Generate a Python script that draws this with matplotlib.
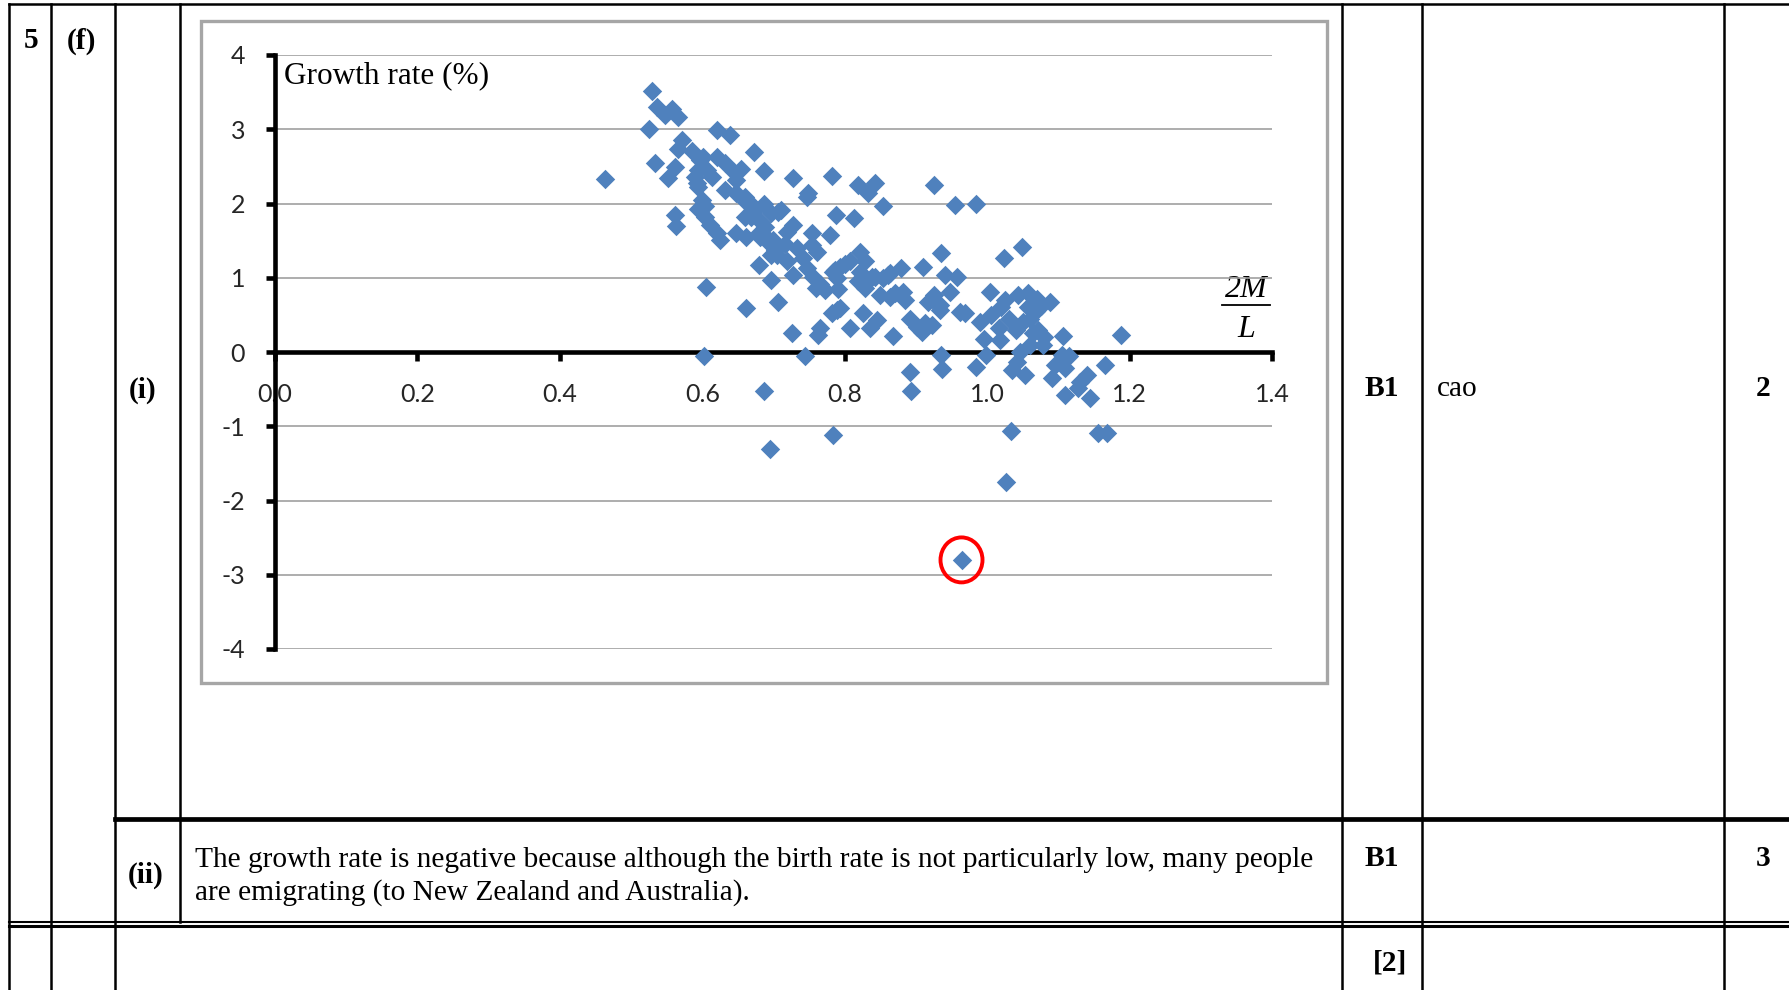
import matplotlib
matplotlib.use("Agg")
import matplotlib.pyplot as plt
from matplotlib.patches import Ellipse, Rectangle

# ---------------- data ----------------
ratio_2M_over_L = [
    0.530, 0.536, 0.548, 0.558, 0.566, 0.525, 0.620, 0.639, 0.572, 0.566, 0.585, 0.673, 0.534, 0.562, 0.552,
    0.464, 0.601, 0.620, 0.632, 0.594, 0.606, 0.644, 0.655, 0.686, 0.592, 0.613, 0.632, 0.648, 0.599, 0.594,
    0.660, 0.669, 0.686, 0.697, 0.562, 0.563, 0.604, 0.611, 0.620, 0.625, 0.648, 0.662, 0.679, 0.688, 0.660,
    0.674, 0.695, 0.679, 0.697, 0.605,
    0.597, 0.590, 0.648, 0.594, 0.604, 0.669, 0.683, 0.690, 0.697,
    0.728, 0.782, 0.749, 0.819, 0.842, 0.833, 0.926, 0.955, 0.854, 0.788, 0.813, 0.711, 0.728, 0.754, 0.779,
    0.716, 0.822, 0.829, 0.879, 0.910, 0.935, 0.941, 0.957, 0.786, 0.800, 0.843, 0.861,
    0.985, 1.023, 1.049,
    0.662, 0.707, 0.747, 0.681, 0.719, 0.700, 0.702, 0.733, 0.754, 0.761, 0.705, 0.719, 0.742, 0.728, 0.747,
    0.756, 0.765, 0.772, 0.784, 0.793, 0.789, 0.807, 0.822, 0.819, 0.829, 0.838, 0.854, 0.864, 0.850, 0.864,
    0.882, 0.925, 0.948, 0.934, 0.962, 0.917, 1.004, 0.662, 0.707, 0.789, 0.782, 0.826, 0.845, 0.836, 0.807,
    0.765, 0.763, 0.726, 0.868, 0.892, 0.901, 0.913, 0.908, 0.922, 0.990, 0.995,
    0.744, 0.793, 0.922, 0.934, 0.935, 0.936, 0.892, 0.893, 0.784, 0.760, 0.790, 0.870, 0.885,
    0.603, 0.687, 0.695,
    1.025, 1.044, 1.058, 1.070, 1.088, 1.006, 1.016, 1.018, 0.998, 0.985, 1.035, 1.053, 1.042, 1.046, 1.050,
    1.060, 1.068, 1.058, 1.075, 1.064, 1.060, 1.072, 1.080, 1.078, 1.040, 1.030, 1.020,
    1.107, 1.105, 1.115, 1.095, 1.109, 1.091, 1.109, 1.130, 1.140, 1.128, 1.145, 1.166, 1.188, 1.155, 1.168,
    1.034, 1.027, 0.969, 0.964,
]
growth_rate = [
    3.52, 3.30, 3.19, 3.27, 3.17, 3.00, 2.99, 2.92, 2.85, 2.74, 2.71, 2.70, 2.55, 2.49, 2.35,
    2.33, 2.62, 2.62, 2.54, 2.45, 2.45, 2.43, 2.47, 2.44, 2.27, 2.36, 2.18, 2.14, 2.05, 1.93,
    2.09, 2.00, 2.00, 1.87, 1.84, 1.70, 1.82, 1.71, 1.60, 1.51, 1.60, 1.55, 1.60, 1.69, 1.82,
    1.91, 1.46, 1.17, 0.97, 0.87,
    2.58, 2.36, 2.31, 2.22, 1.96, 1.82, 1.75, 1.55, 1.31,
    2.35, 2.37, 2.14, 2.25, 2.28, 2.14, 2.25, 1.98, 1.96, 1.85, 1.81, 1.91, 1.71, 1.60, 1.57,
    1.46, 1.35, 1.22, 1.13, 1.15, 1.33, 1.04, 1.01, 1.10, 1.19, 1.01, 1.04,
    1.99, 1.26, 1.42,
    2.02, 1.89, 2.09, 1.55, 1.62, 1.51, 1.37, 1.40, 1.44, 1.35, 1.31, 1.22, 1.26, 1.04, 1.13,
    1.01, 0.92, 0.83, 1.08, 1.15, 0.99, 1.22, 1.08, 0.95, 0.86, 1.01, 0.99, 1.06, 0.77, 0.74,
    0.81, 0.77, 0.81, 0.57, 0.54, 0.68, 0.81, 0.59, 0.68, 0.57, 0.52, 0.52, 0.43, 0.32, 0.32,
    0.32, 0.23, 0.25, 0.21, 0.45, 0.34, 0.39, 0.27, 0.36, 0.41, 0.18,
    -0.06, 0.59, 0.72, 0.63, -0.04, -0.23, -0.27, -0.52, -1.12, 0.86, 0.85, 0.80, 0.70,
    -0.06, -0.52, -1.31,
    0.70, 0.77, 0.79, 0.72, 0.68, 0.50, 0.32, 0.16, -0.04, -0.20, -0.24, -0.31, -0.13, 0.00, 0.40,
    0.45, 0.55, 0.60, 0.62, 0.25, 0.10, 0.30, 0.20, 0.10, 0.30, 0.45, 0.60,
    0.21, -0.04, -0.06, -0.17, -0.22, -0.35, -0.58, -0.40, -0.31, -0.49, -0.62, -0.17, 0.23, -1.09, -1.09,
    -1.06, -1.75, 0.52, -2.80,
]
x_ticks = [0.0, 0.2, 0.4, 0.6, 0.8, 1.0, 1.2, 1.4]
x_tick_labels = ["0.0", "0.2", "0.4", "0.6", "0.8", "1.0", "1.2", "1.4"]
y_ticks = [-4, -3, -2, -1, 0, 1, 2, 3, 4]
y_tick_labels = ["-4", "-3", "-2", "-1", "0", "1", "2", "3", "4"]
circled_point = (0.964, -2.80)

answer_line1 = "The growth rate is negative because although the birth rate is not particularly low, many people"
answer_line2 = "are emigrating (to New Zealand and Australia)."

# ---------------- figure ----------------
W, H = 1789, 990
fig = plt.figure(figsize=(W / 100, H / 100), dpi=100)
fig.patch.set_facecolor("white")

bg = fig.add_axes([0, 0, 1, 1], zorder=0)
bg.set_xlim(0, W)
bg.set_ylim(H, 0)
bg.axis("off")

serif = "Liberation Serif"
k = "black"
thin = 1.8

# table lines
bg.plot([9, W], [4, 4], color=k, lw=thin)
for x in [9, 51, 115, 1342, 1422, 1724]:
    bg.plot([x, x], [4, H], color=k, lw=thin)
bg.plot([180, 180], [4, 922], color=k, lw=thin)
bg.plot([115, W], [819, 819], color=k, lw=3.4)
bg.plot([9, W], [921.5, 921.5], color=k, lw=1.5)
bg.plot([9, W], [925.7, 925.7], color=k, lw=2.2)

# table texts
fs = 21.2
bg.text(31, 41, "5", fontsize=fs, fontweight="bold", family=serif, ha="center", va="center")
bg.text(81, 41, "(f)", fontsize=fs, fontweight="bold", family=serif, ha="center", va="center")
bg.text(143, 390, "(i)", fontsize=fs, fontweight="bold", family=serif, ha="center", va="center")
bg.text(146, 875, "(ii)", fontsize=fs, fontweight="bold", family=serif, ha="center", va="center")
bg.text(1382, 389, "B1", fontsize=fs, fontweight="bold", family=serif, ha="center", va="center")
bg.text(1437, 389, "cao", fontsize=fs, family=serif, ha="left", va="center")
bg.text(1763, 389, "2", fontsize=fs, fontweight="bold", family=serif, ha="center", va="center")
bg.text(1382, 859, "B1", fontsize=fs, fontweight="bold", family=serif, ha="center", va="center")
bg.text(1763, 859, "3", fontsize=fs, fontweight="bold", family=serif, ha="center", va="center")
bg.text(1390, 963, "[2]", fontsize=fs, fontweight="bold", family=serif, ha="center", va="center")
bg.text(195, 860, answer_line1, fontsize=fs, family=serif, ha="left", va="center")
bg.text(195, 893, answer_line2, fontsize=fs, family=serif, ha="left", va="center")

# chart frame
bg.add_patch(Rectangle((201, 21), 1126, 662, fill=False, ec="#A6A6A6", lw=2.4))

# axis titles
bg.text(284, 83, "Growth rate (%)", fontsize=22.5, family=serif, ha="left", va="baseline")
bg.text(1246, 297, "2M", fontsize=23, family=serif, style="italic", ha="center", va="baseline")
bg.plot([1222, 1270], [305, 305], color=k, lw=1.3)
bg.text(1246, 337, "L", fontsize=23, family=serif, style="italic", ha="center", va="baseline")

# ---------------- scatter axes ----------------
x0, x1 = 275, 1272
y0, y1 = 55, 649
ax = fig.add_axes([x0 / W, 1 - y1 / H, (x1 - x0) / W, (y1 - y0) / H], zorder=1)
ax.patch.set_alpha(0)
ax.set_xlim(0, 1.4)
ax.set_ylim(-4, 4)

for yv in y_ticks:
    if yv != 0:
        ax.axhline(yv, color="#A0A0A0", lw=1.2, zorder=0.5)

ax.scatter(ratio_2M_over_L, growth_rate, marker="D", s=98, color="#4F81BD",
           linewidths=0, zorder=3, clip_on=False)

ax.add_patch(Ellipse(circled_point, 42 / 712.1, 45 / 74.3, fill=False, ec="#FF0000", lw=2.8, zorder=4))

for s in ["top", "right"]:
    ax.spines[s].set_visible(False)
ax.spines["bottom"].set_position(("data", 0))
ax.spines["left"].set_position(("data", 0))
for s in ["bottom", "left"]:
    ax.spines[s].set_linewidth(3.3)
    ax.spines[s].set_color(k)
    ax.spines[s].set_zorder(2.5)

tick_font = {"family": "Lato", "size": 18, "color": "#262626"}
ax.set_xticks(x_ticks)
ax.set_xticklabels(x_tick_labels, fontdict=tick_font)
ax.set_yticks(y_ticks)
ax.set_yticklabels(y_tick_labels, fontdict=tick_font)
ax.tick_params(axis="x", direction="out", length=6.5, width=3.3, pad=15.5)
ax.tick_params(axis="y", direction="out", length=6.5, width=3.3, pad=15)

fig.savefig("out.png", dpi=100, facecolor="white")
